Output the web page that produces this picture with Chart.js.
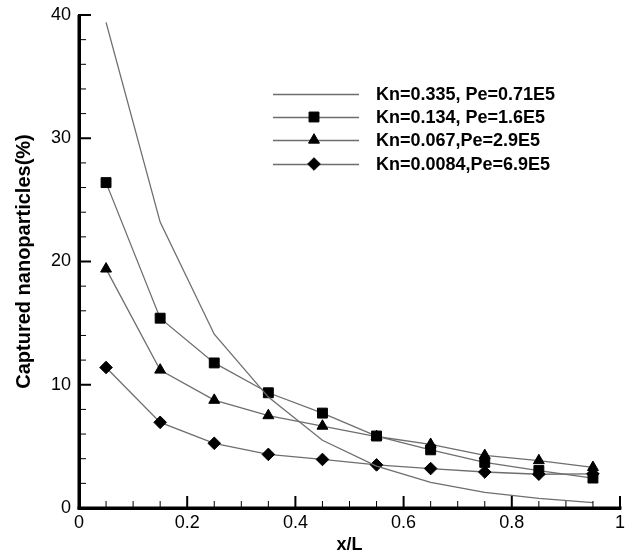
<!DOCTYPE html>
<html>
<head>
<meta charset="utf-8">
<script src="https://cdn.jsdelivr.net/npm/chart.js@4/dist/chart.umd.min.js"></script>
<style>
  html, body { margin: 0; padding: 0; background: #fff; }
  #wrap { width: 631px; height: 556px; }
</style>
</head>
<body>
<div id="wrap"><canvas id="c" width="631" height="556"></canvas></div>
<script>
// Sampling stations along the channel
const xPositions = [0.05, 0.15, 0.25, 0.35, 0.45, 0.55, 0.65, 0.75, 0.85, 0.95];

// Captured nanoparticles (%) per case
const knA = [39.4, 23.2, 14.1, 9.0, 5.5, 3.4, 2.07, 1.26, 0.78, 0.43];   // Kn=0.335
const knB = [26.4, 15.4, 11.77, 9.35, 7.7, 5.84, 4.72, 3.7, 3.04, 2.43]; // Kn=0.134
const knC = [19.4, 11.2, 8.75, 7.5, 6.65, 5.8, 5.17, 4.27, 3.85, 3.3];   // Kn=0.067
const knD = [11.4, 6.95, 5.25, 4.35, 3.94, 3.5, 3.2, 2.92, 2.74, 2.77];  // Kn=0.0084

const seriesLabels = [
  'Kn=0.335, Pe=0.71E5',
  'Kn=0.134, Pe=1.6E5',
  'Kn=0.067,Pe=2.9E5',
  'Kn=0.0084,Pe=6.9E5'
];

// Labelled (major) ticks and the unlabelled minor ticks between them
const xTickValues = [0, 0.2, 0.4, 0.6, 0.8, 1];
const xTickLabels = ['0', '0.2', '0.4', '0.6', '0.8', '1'];
const yTickValues = [0, 10, 20, 30, 40];
const xMinorTicks = [0.05, 0.1, 0.15, 0.25, 0.3, 0.35, 0.45, 0.5, 0.55,
                     0.65, 0.7, 0.75, 0.85, 0.9, 0.95];
const yMinorTicks = [2, 4, 6, 8, 12, 14, 16, 18, 22, 24, 26, 28, 32, 34, 36, 38];

const FONT = "'Liberation Sans', Arial, Helvetica, sans-serif";
const LINE_COLOR = '#6e6e6e';

function toPoints(ys) {
  return xPositions.map((x, i) => ({ x: x, y: ys[i] }));
}

function makeSet(label, ys, style, radius) {
  return {
    label: label,
    data: toPoints(ys),
    borderColor: LINE_COLOR,
    borderWidth: 1.3,
    tension: 0,
    pointStyle: style,
    pointRadius: radius,
    pointBackgroundColor: '#000',
    pointBorderColor: '#000',
    pointBorderWidth: 1,
    pointHoverRadius: radius,
    clip: false
  };
}

const datasets = [
  makeSet(seriesLabels[0], knA, 'circle', 0),
  makeSet(seriesLabels[1], knB, 'rect', 7),
  makeSet(seriesLabels[2], knC, 'triangle', 6.3),
  makeSet(seriesLabels[3], knD, 'rectRot', 6.3)
];

function drawMarker(ctx, style, x, y, r) {
  ctx.beginPath();
  if (style === 'rect') {
    const s = Math.SQRT1_2 * r;
    ctx.rect(x - s, y - s, 2 * s, 2 * s);
  } else if (style === 'triangle') {
    for (let k = 0; k < 3; k++) {
      const ang = -Math.PI / 2 + k * 2 * Math.PI / 3;
      const px = x + Math.cos(ang) * r;
      const py = y + Math.sin(ang) * r;
      if (k === 0) ctx.moveTo(px, py); else ctx.lineTo(px, py);
    }
    ctx.closePath();
  } else if (style === 'rectRot') {
    ctx.moveTo(x - r, y);
    ctx.lineTo(x, y - r);
    ctx.lineTo(x + r, y);
    ctx.lineTo(x, y + r);
    ctx.closePath();
  }
  ctx.fill();
  ctx.stroke();
}

// Axis lines and inward tick marks, drawn as filled bars
const axesFrame = {
  id: 'axesFrame',
  afterDraw(chart) {
    const ctx = chart.ctx;
    const ca = chart.chartArea;
    const sx = chart.scales.x, sy = chart.scales.y;
    ctx.save();
    ctx.fillStyle = '#000';
    // left and bottom axis lines
    ctx.fillRect(ca.left - 1.5, ca.top, 3, ca.bottom - ca.top + 1.5);
    ctx.fillRect(ca.left - 1.5, ca.bottom - 1.5, ca.right - ca.left + 3, 3);
    // y ticks
    yTickValues.forEach(v => {
      const py = sy.getPixelForValue(v);
      ctx.fillRect(ca.left, py - 1, 12, 2);
    });
    yMinorTicks.forEach(v => {
      const py = sy.getPixelForValue(v);
      ctx.fillRect(ca.left, py - 0.5, 7, 1);
    });
    // x ticks
    xTickValues.forEach(v => {
      const px = sx.getPixelForValue(v);
      ctx.fillRect(px - 1, ca.bottom - 12, 2, 12);
    });
    xMinorTicks.forEach(v => {
      const px = sx.getPixelForValue(v);
      ctx.fillRect(px - 0.5, ca.bottom - 7, 1, 7);
    });
    ctx.restore();
  }
};

// Legend inside the plot, upper right
const innerLegend = {
  id: 'innerLegend',
  afterDraw(chart) {
    const ctx = chart.ctx;
    const lineX0 = 273, lineX1 = 359, markX = 314, textX = 376;
    const rowY = [94, 117, 140, 164];
    ctx.save();
    chart.data.datasets.forEach((ds, i) => {
      const yy = rowY[i];
      ctx.strokeStyle = ds.borderColor;
      ctx.lineWidth = ds.borderWidth;
      ctx.beginPath();
      ctx.moveTo(lineX0, yy + 0.5);
      ctx.lineTo(lineX1, yy + 0.5);
      ctx.stroke();
      if (ds.pointRadius > 0) {
        ctx.fillStyle = ds.pointBackgroundColor;
        ctx.strokeStyle = ds.pointBorderColor;
        ctx.lineWidth = ds.pointBorderWidth;
        drawMarker(ctx, ds.pointStyle, markX, yy, ds.pointRadius);
      }
      ctx.fillStyle = '#000';
      ctx.font = 'bold 18px ' + FONT;
      ctx.textAlign = 'left';
      ctx.textBaseline = 'middle';
      ctx.fillText(ds.label, textX, yy + 1);
    });
    ctx.restore();
  }
};

const tickFont = { family: FONT, size: 18 };

new Chart(document.getElementById('c'), {
  type: 'line',
  data: { datasets: datasets },
  options: {
    responsive: false,
    animation: false,
    events: [],
    layout: { padding: { top: 15, right: 11, left: 0, bottom: 0 } },
    plugins: {
      legend: { display: false },
      tooltip: { enabled: false }
    },
    scales: {
      x: {
        type: 'linear', min: 0, max: 1,
        afterBuildTicks: (s) => { s.ticks = xTickValues.map(v => ({ value: v })); },
        afterFit: (s) => { s.height = 48; s.paddingLeft = 0; s.paddingRight = 0; },
        ticks: {
          color: '#000', font: tickFont, padding: 4, maxRotation: 0, autoSkip: false,
          callback: (v) => xTickLabels[xTickValues.indexOf(v)] ?? String(v)
        },
        grid: { display: true, drawOnChartArea: false, drawTicks: false, lineWidth: 1 },
        border: { display: true, color: '#000', width: 3 },
        title: {
          display: true, text: 'x/L', color: '#000',
          font: { family: FONT, size: 18, weight: 'bold' },
          padding: { top: 0, bottom: 0 }
        }
      },
      y: {
        type: 'linear', min: 0, max: 40,
        afterBuildTicks: (s) => { s.ticks = yTickValues.map(v => ({ value: v })); },
        afterFit: (s) => { s.width = 79; s.paddingTop = 0; s.paddingBottom = 0; },
        ticks: { color: '#000', font: tickFont, padding: 8, autoSkip: false },
        grid: { display: true, drawOnChartArea: false, drawTicks: false, lineWidth: 1 },
        border: { display: true, color: '#000', width: 3 },
        title: {
          display: true, text: 'Captured nanoparticles(%)', color: '#000',
          font: { family: FONT, size: 20, weight: 'bold' },
          padding: { top: 12, bottom: 0 }
        }
      }
    }
  },
  plugins: [axesFrame, innerLegend]
});
</script>
</body>
</html>
